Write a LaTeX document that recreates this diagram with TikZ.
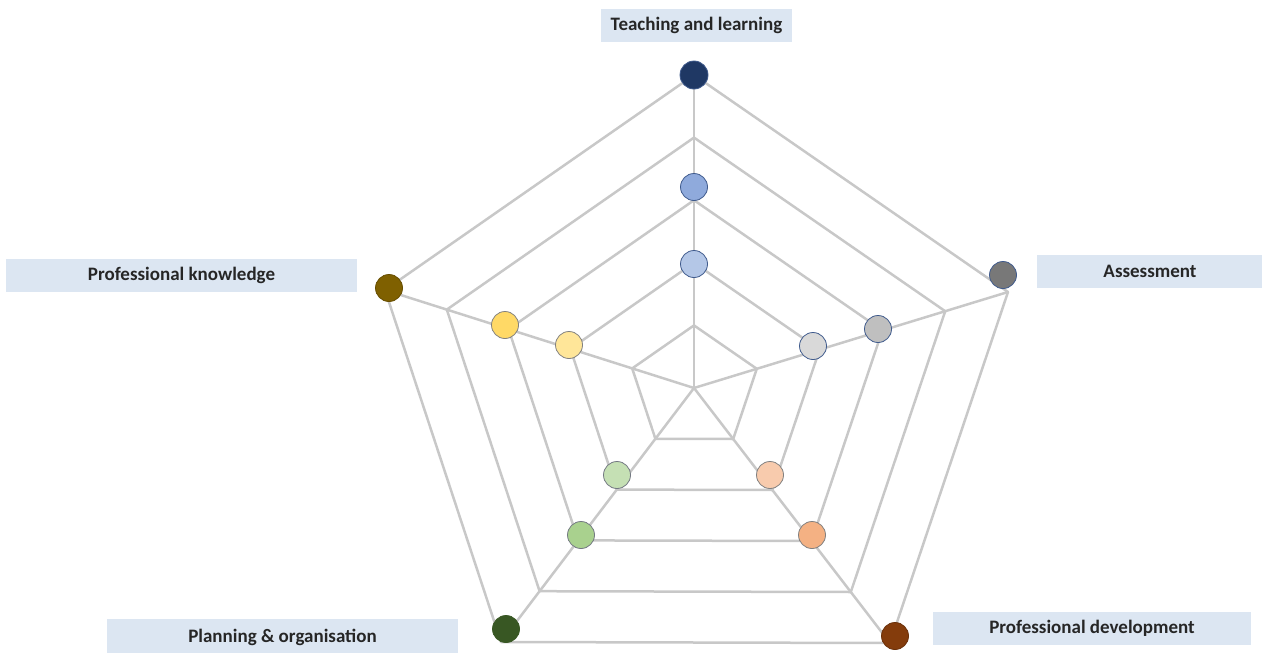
\documentclass[tikz,border=0pt]{standalone}
\usepackage{color}
\usepackage{fontspec}
\setmainfont{Carlito}
\usepackage{tikz}
\usetikzlibrary{calc}
\usetikzlibrary{positioning}

\definecolor{netzgrau}{HTML}{C8C8C8}
\definecolor{boxblau}{HTML}{DCE6F2}
\definecolor{rand}{HTML}{3F5A8C}
\definecolor{navy}{HTML}{1F3864}
\definecolor{blauB}{HTML}{8FAADC}
\definecolor{blauA}{HTML}{B4C7E7}
\definecolor{grauC}{HTML}{787878}
\definecolor{grauB}{HTML}{BFBFBF}
\definecolor{grauA}{HTML}{D9D9D9}
\definecolor{braun}{HTML}{843C0C}
\definecolor{orangeB}{HTML}{F4B183}
\definecolor{orangeA}{HTML}{F8CBAD}
\definecolor{gruenC}{HTML}{385723}
\definecolor{gruenB}{HTML}{A9D18E}
\definecolor{gruenA}{HTML}{C5E0B4}
\definecolor{oliv}{HTML}{7F6000}
\definecolor{gelbB}{HTML}{FFD966}
\definecolor{gelbA}{HTML}{FFE699}

\begin{document}
\begin{tikzpicture}[%
x={(1pt,0pt)},
y={(0pt,-1pt)},
netz/.style={draw=netzgrau,line width=2.5pt,line join=round},
punkt/.style={circle,minimum size=27pt,inner sep=0pt,draw=rand,line width=0.8pt},
lbl/.style={fill=boxblau,inner sep=0pt,minimum height=33pt,text=black!85,font=\bfseries\fontsize{19}{22}\selectfont},
]
\useasboundingbox (0,0) rectangle (1262,653);

\coordinate (O) at (694,388);
\coordinate (T) at (694,75);
\coordinate (R) at (1008,292);
\coordinate (BR) at (890,643);
\coordinate (BL) at (501,642);
\coordinate (L) at (385,290);

%Ringe
\foreach \k in {0.2,0.4,0.6,0.8,1}
\draw[netz] ($(O)!\k!(T)$) -- ($(O)!\k!(R)$) -- ($(O)!\k!(BR)$)
-- ($(O)!\k!(BL)$) -- ($(O)!\k!(L)$) -- cycle;

%Achsen
\draw[netz] (O) -- (T);
\draw[netz] (O) -- (R);
\draw[netz] (O) -- (BR);
\draw[netz] (O) -- (BL);
\draw[netz] (O) -- (L);

%Punkte
\node[punkt,fill=navy,minimum size=28pt](T3) at (694,75){};
\node[punkt,fill=blauB](T2) at (694,187){};
\node[punkt,fill=blauA](T1) at (694,264){};
\node[punkt,fill=grauC](R3) at (1003,275){};
\node[punkt,fill=grauB](R2) at (878,329){};
\node[punkt,fill=grauA](R1) at (813,346){};
\node[punkt,fill=braun,draw=braun!80!black](BR3) at (895,636){};
\node[punkt,fill=orangeB,draw=gray](BR2) at (812,535){};
\node[punkt,fill=orangeA,draw=gray](BR1) at (770,475){};
\node[punkt,fill=gruenC,draw=gruenC](BL3) at (506,629){};
\node[punkt,fill=gruenB,draw=gray!80!rand](BL2) at (581,535){};
\node[punkt,fill=gruenA,draw=gray!80!rand](BL1) at (617,475){};
\node[punkt,fill=oliv,draw=oliv!80!black](L3) at (389,288){};
\node[punkt,fill=gelbB,draw=gray](L2) at (505,325){};
\node[punkt,fill=gelbA,draw=gray](L1) at (569,345){};

%Beschriftung
\node[lbl,minimum width=191pt](TL) at (696.5,25){Teaching and learning};
\node[lbl,minimum width=226pt](AS) at (1150,271.5){Assessment};
\node[lbl,minimum width=351pt](PK) at (181.5,275.5){Professional knowledge};
\node[lbl,minimum width=318pt](PD) at (1092,628){Professional development};
\node[lbl,minimum width=351pt,minimum height=36pt](PO) at (282.5,637){Planning \& organisation};

\end{tikzpicture}
\end{document}
